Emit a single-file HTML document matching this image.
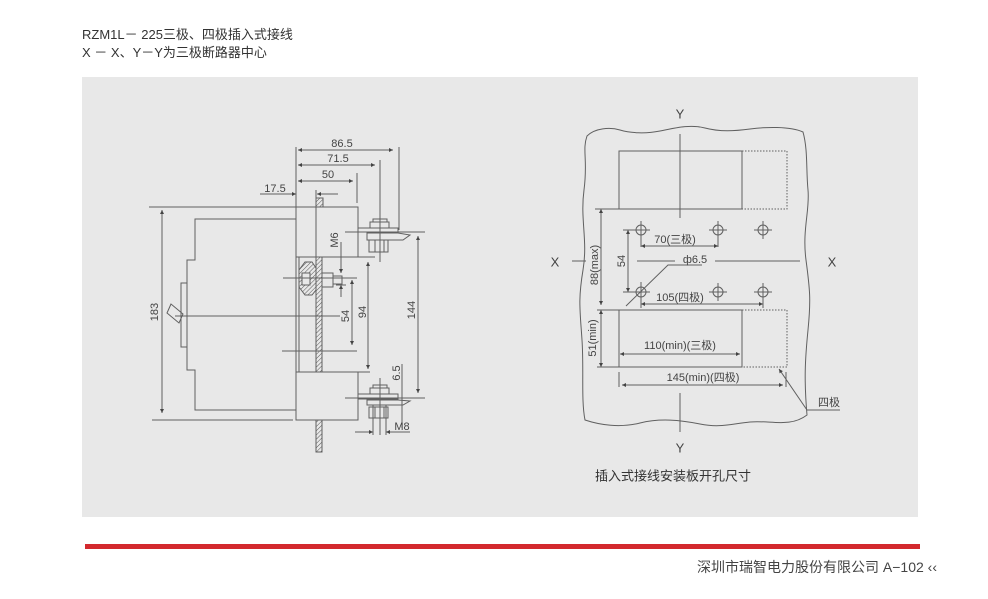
<!DOCTYPE html>
<html><head><meta charset="utf-8"><style>
html,body{margin:0;padding:0;background:#fff;}
svg{display:block;}
text{font-family:"Liberation Sans","Noto Sans CJK SC",sans-serif;}
</style></head><body>
<svg width="988" height="599" viewBox="0 0 988 599" xmlns="http://www.w3.org/2000/svg">
<defs>
<marker id="a" viewBox="0 0 10 10" refX="10" refY="5" markerWidth="6" markerHeight="4" orient="auto-start-reverse" markerUnits="userSpaceOnUse"><path d="M0,0 L10,5 L0,10z" fill="#444"/></marker>
<pattern id="h" patternUnits="userSpaceOnUse" width="3" height="3" patternTransform="rotate(45)"><rect width="3" height="3" fill="#e8e8e8"/><line x1="0" y1="0" x2="0" y2="3" stroke="#555" stroke-width="1"/></pattern>
</defs>
<rect width="988" height="599" fill="#fff"/>
<text x="82" y="39" font-size="13" fill="#333">RZM1L－ 225三极、四极插入式接线</text>
<text x="82" y="57" font-size="13" fill="#333">X － X、Y－Y为三极断路器中心</text>
<rect x="82" y="77" width="836" height="440" fill="#e8e8e8"/>
<rect x="85" y="544" width="835" height="5" fill="#d3292e"/>
<text x="937" y="572" font-size="14" fill="#444" text-anchor="end">深圳市瑞智电力股份有限公司 A−102 ‹‹</text>

<g stroke="#606060" stroke-width="1" fill="none">
<!-- LEFT DRAWING -->
<line x1="298" y1="150" x2="393" y2="150" marker-start="url(#a)" marker-end="url(#a)"/>
<line x1="298" y1="165" x2="375" y2="165" marker-start="url(#a)" marker-end="url(#a)"/>
<line x1="298" y1="181" x2="353" y2="181" marker-start="url(#a)" marker-end="url(#a)"/>
<line x1="296" y1="147" x2="296" y2="207"/>
<line x1="399" y1="147" x2="399" y2="230"/>
<line x1="380" y1="160" x2="380" y2="262"/>
<line x1="357" y1="173" x2="357" y2="203"/>
<line x1="260" y1="194" x2="296" y2="194" marker-end="url(#a)"/>
<line x1="338" y1="194" x2="317" y2="194" marker-end="url(#a)"/>
<line x1="316" y1="190" x2="316" y2="257"/>
<rect x="316" y="198" width="7" height="9" fill="url(#h)"/>
<rect x="296" y="207" width="62" height="50"/>
<rect x="296" y="372" width="62" height="48"/>
<line x1="149" y1="207" x2="296" y2="207"/>
<line x1="152" y1="420" x2="293" y2="420"/>
<line x1="296" y1="257" x2="296" y2="372"/>
<line x1="299" y1="257" x2="299" y2="372"/>
<rect x="316" y="257" width="6" height="115" fill="url(#h)"/>
<rect x="316" y="420" width="6" height="32" fill="url(#h)"/>
<polyline points="296,219 195,219 195,260 187,260 187,370 195,370 195,410 296,410"/>
<rect x="181" y="283" width="6" height="64"/>
<polygon points="171,304 167,313 179,323 183,314"/>
<line x1="175" y1="316" x2="340" y2="316"/>
<line x1="162" y1="210" x2="162" y2="413" marker-start="url(#a)" marker-end="url(#a)"/>
<!-- middle bolt -->
<polygon points="299,270 305,262 312,262 316,268 316,290 312,295 305,295 299,287" fill="url(#h)"/>
<rect x="302" y="273" width="8" height="12" fill="#e8e8e8"/>
<rect x="322" y="273" width="11" height="14" fill="#e8e8e8"/>
<rect x="333" y="276" width="9" height="8" fill="#e8e8e8"/>
<line x1="283" y1="278" x2="357" y2="278"/>
<line x1="341" y1="242" x2="341" y2="273" marker-end="url(#a)"/>
<line x1="341" y1="297" x2="341" y2="285" marker-end="url(#a)"/>
<line x1="336" y1="285" x2="346" y2="285"/>
<line x1="352" y1="280" x2="352" y2="345" marker-start="url(#a)" marker-end="url(#a)"/>
<line x1="282" y1="351" x2="357" y2="351"/>
<line x1="368" y1="262" x2="368" y2="369" marker-start="url(#a)" marker-end="url(#a)"/>
<line x1="358" y1="257" x2="375" y2="257"/>
<line x1="358" y1="372" x2="370" y2="372"/>
<line x1="418" y1="236" x2="418" y2="393" marker-start="url(#a)" marker-end="url(#a)"/>
<!-- top terminal -->
<rect x="373" y="219" width="14" height="4"/>
<rect x="370" y="222" width="19" height="6" fill="#e8e8e8"/>
<rect x="358" y="228" width="40" height="4" fill="#e8e8e8"/>
<line x1="345" y1="232" x2="425" y2="232"/>
<polygon points="367,233 398,233 410,235 403,240 367,240" fill="#e8e8e8"/>
<rect x="369" y="240" width="19" height="12" fill="#e8e8e8"/>
<line x1="375" y1="240" x2="375" y2="252"/><line x1="384" y1="240" x2="384" y2="252"/>
<line x1="380" y1="215" x2="380" y2="262"/>
<!-- bottom terminal -->
<rect x="373" y="385" width="14" height="3"/>
<rect x="370" y="388" width="19" height="6" fill="#e8e8e8"/>
<rect x="358" y="394" width="40" height="5" fill="#e8e8e8"/>
<line x1="345" y1="398" x2="425" y2="398"/>
<polygon points="367,400 398,400 410,401 403,405 367,405" fill="#e8e8e8"/>
<rect x="369" y="407" width="19" height="11" fill="#e8e8e8"/>
<line x1="375" y1="407" x2="375" y2="418"/><line x1="384" y1="407" x2="384" y2="418"/>
<line x1="380" y1="378" x2="380" y2="435"/>
<line x1="373" y1="405" x2="373" y2="435"/>
<line x1="386" y1="405" x2="386" y2="435"/>
<line x1="355" y1="432" x2="373" y2="432" marker-end="url(#a)"/>
<line x1="410" y1="432" x2="386" y2="432" marker-end="url(#a)"/>
<line x1="402" y1="364" x2="402" y2="428"/>

<!-- RIGHT DRAWING -->
<path d="M587,136 C595,128 610,127 620,130 S645,134 660,131 S690,124 705,128 S735,131 750,129 S790,126 803,132 C808,150 806,170 808,190 S802,230 806,260 S811,300 808,330 S804,380 807,415 C790,428 770,420 750,422 S720,428 700,424 S660,418 640,423 S600,425 585,420 C581,400 584,370 582,340 S578,300 583,270 S580,220 584,190 S582,150 587,136 Z"/>
<line x1="680" y1="134" x2="680" y2="218"/>
<rect x="619" y="151" width="123" height="58"/>
<polyline points="742,151 787,151 787,209 742,209" stroke-dasharray="1.5,1.5"/>
<line x1="595" y1="209" x2="619" y2="209"/>
<g>
<circle cx="641" cy="230" r="5"/><line x1="632" y1="230" x2="650" y2="230"/><line x1="641" y1="221" x2="641" y2="247"/>
<circle cx="718" cy="230" r="5"/><line x1="709" y1="230" x2="727" y2="230"/><line x1="718" y1="221" x2="718" y2="247"/>
<circle cx="763" cy="230" r="5"/><line x1="754" y1="230" x2="772" y2="230"/><line x1="763" y1="221" x2="763" y2="239"/>
<circle cx="641" cy="292" r="5"/><line x1="632" y1="292" x2="650" y2="292"/><line x1="641" y1="282" x2="641" y2="308"/>
<circle cx="718" cy="292" r="5"/><line x1="709" y1="292" x2="727" y2="292"/><line x1="718" y1="283" x2="718" y2="301"/>
<circle cx="763" cy="292" r="5"/><line x1="754" y1="292" x2="772" y2="292"/><line x1="763" y1="283" x2="763" y2="308"/>
</g>
<line x1="641" y1="246" x2="718" y2="246" marker-start="url(#a)" marker-end="url(#a)"/>
<line x1="623" y1="230" x2="641" y2="230"/>
<line x1="623" y1="292" x2="641" y2="292"/>
<line x1="628" y1="230" x2="628" y2="292" marker-start="url(#a)" marker-end="url(#a)"/>
<line x1="601" y1="209" x2="601" y2="305" marker-start="url(#a)" marker-end="url(#a)"/>
<line x1="572" y1="261" x2="586" y2="261"/>
<line x1="637" y1="261" x2="675" y2="261"/>
<line x1="715" y1="261" x2="800" y2="261"/>
<polyline points="702,265 668,265 626,306"/>
<line x1="641" y1="304" x2="763" y2="304" marker-start="url(#a)" marker-end="url(#a)"/>
<rect x="619" y="310" width="123" height="57"/>
<polyline points="742,310 787,310 787,367 742,367" stroke-dasharray="1.5,1.5"/>
<line x1="597" y1="310" x2="619" y2="310"/>
<line x1="597" y1="367" x2="619" y2="367"/>
<line x1="601" y1="310" x2="601" y2="367" marker-start="url(#a)" marker-end="url(#a)"/>
<line x1="620" y1="354" x2="740" y2="354" marker-start="url(#a)" marker-end="url(#a)"/>
<line x1="619" y1="372" x2="619" y2="387"/>
<line x1="786" y1="372" x2="786" y2="387"/>
<line x1="622" y1="385" x2="783" y2="385" marker-start="url(#a)" marker-end="url(#a)"/>
<polyline points="840,410 807,410 779,369" marker-end="url(#a)"/>
<line x1="680" y1="393" x2="680" y2="432"/>
</g>

<g fill="#444" font-size="11" text-anchor="middle" dominant-baseline="central">
<text x="342" y="144">86.5</text>
<text x="338" y="159">71.5</text>
<text x="328" y="175">50</text>
<text x="275" y="189">17.5</text>
<text x="155" y="312" transform="rotate(-90 155 312)">183</text>
<text x="335" y="240" transform="rotate(-90 335 240)">M6</text>
<text x="346" y="316" transform="rotate(-90 346 316)">54</text>
<text x="363" y="312" transform="rotate(-90 363 312)">94</text>
<text x="412" y="310" transform="rotate(-90 412 310)">144</text>
<text x="397" y="373" transform="rotate(-90 397 373)">6.5</text>
<text x="402" y="427">M8</text>
<text x="680" y="114" font-size="13">Y</text>
<text x="680" y="448" font-size="13">Y</text>
<text x="555" y="262" font-size="13">X</text>
<text x="832" y="262" font-size="13">X</text>
<text x="675" y="240">70(三极)</text>
<text x="695" y="260">ф6.5</text>
<text x="622" y="261" transform="rotate(-90 622 261)">54</text>
<text x="595" y="265" transform="rotate(-90 595 265)">88(max)</text>
<text x="680" y="298">105(四极)</text>
<text x="593" y="338" transform="rotate(-90 593 338)">51(min)</text>
<text x="680" y="346">110(min)(三极)</text>
<text x="703" y="378">145(min)(四极)</text>
<text x="829" y="403">四极</text>
<text x="673" y="476" font-size="13" fill="#333">插入式接线安装板开孔尺寸</text>
</g>
</svg>
</body></html>
